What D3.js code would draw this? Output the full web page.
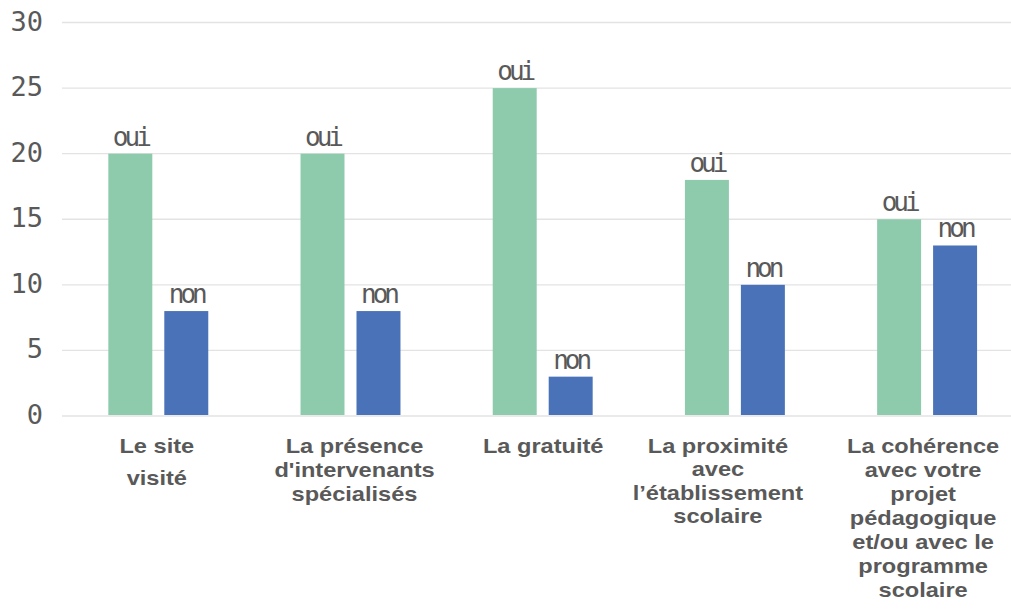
<!DOCTYPE html>
<html>
<head>
<meta charset="utf-8">
<script src="https://cdn.jsdelivr.net/npm/d3@7"></script>
<style>
  html, body { margin: 0; padding: 0; background: #fff; }
  svg { display: block; }
</style>
</head>
<body>
<svg id="chart" width="1011" height="613"></svg>
<script>
// ---- data ----
const categories = [
  "Le site visité",
  "La présence d'intervenants spécialisés",
  "La gratuité",
  "La proximité avec l’établissement scolaire",
  "La cohérence avec votre projet pédagogique et/ou avec le programme scolaire"
];
const categoryLines = [
  ["Le site", "visité"],
  ["La présence", "d'intervenants", "spécialisés"],
  ["La gratuité"],
  ["La proximité", "avec", "l’établissement", "scolaire"],
  ["La cohérence", "avec votre", "projet", "pédagogique", "et/ou avec le", "programme", "scolaire"]
];
const seriesNames = ["oui", "non"];
const ouiValues = [20, 20, 25, 18, 15];
const nonValues = [8, 8, 3, 10, 13];
const yTicks = [0, 5, 10, 15, 20, 25, 30];

// ---- layout ----
const W = 1011, H = 613;
const colors = { oui: "#8ecbad", non: "#4a72b8" };
const textColor = "#595959";

const svg = d3.select("#chart");

const y = d3.scaleLinear().domain([0, 30]).range([416, 22.5]);
const x = d3.scaleBand().domain(categories).range([62.2, 1023.2])
  .paddingInner(0.48).paddingOuter(0.24);
const xs = d3.scaleBand().domain(seriesNames).range([0, x.bandwidth()])
  .paddingInner(12 / 56).paddingOuter(0);

// gridlines
svg.append("g").selectAll("line").data(yTicks).join("line")
  .attr("x1", 62).attr("x2", W)
  .attr("y1", d => y(d)).attr("y2", d => y(d))
  .attr("stroke", "#e3e3e3").attr("stroke-width", 1.4);

// y tick labels
svg.append("g").selectAll("text").data(yTicks).join("text")
  .attr("x", 43).attr("y", d => y(d) + 8)
  .attr("text-anchor", "end")
  .attr("font-family", "DejaVu Sans Mono")
  .attr("font-size", 27)
  .attr("fill", textColor)
  .text(d => d);

// bars
const rows = categories.map((c, i) => ({
  cat: c,
  vals: [{ s: "oui", v: ouiValues[i] }, { s: "non", v: nonValues[i] }]
}));

const groups = svg.append("g").selectAll("g").data(rows).join("g")
  .attr("transform", d => `translate(${x(d.cat)},0)`);

groups.selectAll("rect").data(d => d.vals).join("rect")
  .attr("x", d => xs(d.s))
  .attr("width", xs.bandwidth())
  .attr("y", d => y(d.v))
  .attr("height", d => y(0) - y(d.v) - 1)
  .attr("fill", d => colors[d.s]);

groups.selectAll("text").data(d => d.vals).join("text")
  .attr("x", d => xs(d.s) + xs.bandwidth() / 2)
  .attr("y", d => y(d.v) - 8)
  .attr("text-anchor", "middle")
  .attr("font-family", "DejaVu Sans Mono")
  .attr("font-size", 26)
  .attr("letter-spacing", "-4px")
  .attr("fill", textColor)
  .text(d => d.s);

// category labels
const lineGap = [32, 24, 24, 23.4, 24];
const labelShift = [-1.5, 4, 0.5, -17, -4];
const labels = svg.append("g").selectAll("g").data(categories).join("g")
  .attr("transform", (d, i) => `translate(${x(d) + x.bandwidth() / 2 + labelShift[i]},453) scale(1.18,1)`);

labels.each(function(d, i) {
  const g = d3.select(this);
  const t = g.append("text")
    .attr("text-anchor", "middle")
    .attr("font-family", "Liberation Sans, Arial, sans-serif")
    .attr("font-weight", "bold")
    .attr("font-size", 20)
    .attr("fill", textColor);
  categoryLines[i].forEach((line, k) => {
    t.append("tspan").attr("x", 0).attr("y", k * lineGap[i]).text(line);
  });
});
</script>
</body>
</html>
